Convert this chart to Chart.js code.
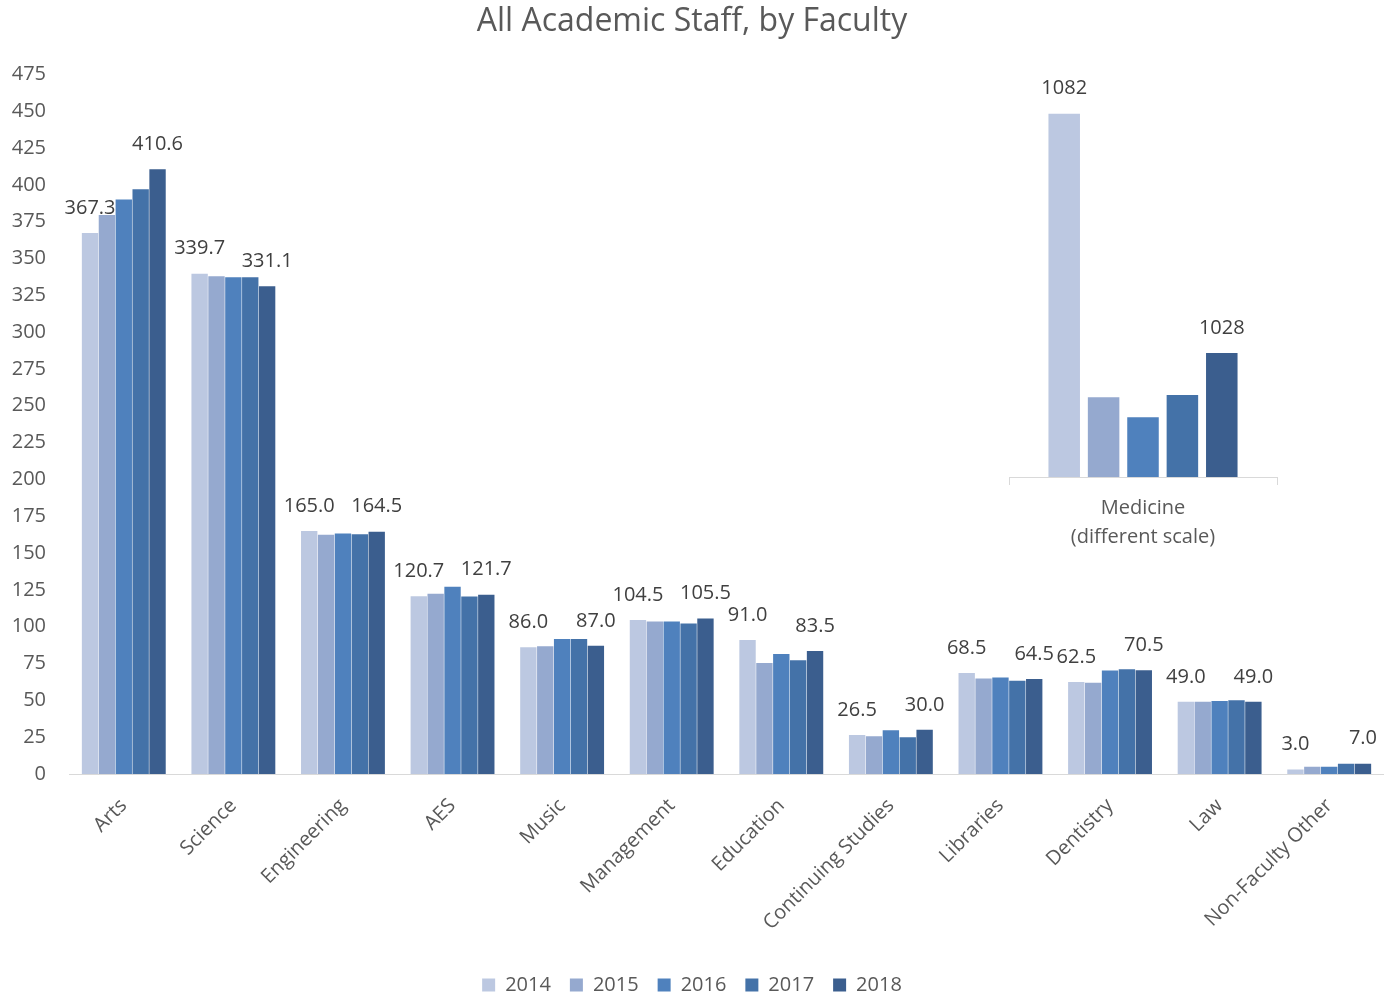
<!DOCTYPE html>
<html>
<head>
<meta charset="utf-8">
<title>All Academic Staff, by Faculty</title>
<script src="https://cdn.jsdelivr.net/npm/chart.js@4.4.1/dist/chart.umd.min.js"></script>
<style>
  html, body { margin: 0; padding: 0; background: #fff; overflow: hidden; }
  #wrap { position: relative; width: 1384px; height: 994px; overflow: hidden; }
  #mainChart { position: absolute; left: 0; top: 0; }
  #medChart { position: absolute; left: 1007px; top: 34px; }
</style>
</head>
<body>
<div id="wrap">
  <canvas id="mainChart" width="1384" height="1005"></canvas>
  <canvas id="medChart" width="272" height="533"></canvas>
</div>
<script>
// data
const faculties = ["Arts", "Science", "Engineering", "AES", "Music", "Management",
  "Education", "Continuing Studies", "Libraries", "Dentistry", "Law", "Non-Faculty Other"];
const years = ["2014", "2015", "2016", "2017", "2018"];

const staff2014 = [367.3, 339.7, 165.0, 120.7, 86.0, 104.5, 91.0, 26.5, 68.5, 62.5, 49.0, 3.0];
const staff2015 = [379.5, 338.0, 162.5, 122.3, 86.7, 103.6, 75.4, 25.6, 64.9, 62.0, 49.0, 5.0];
const staff2016 = [390.0, 337.3, 163.3, 127.2, 91.6, 103.6, 81.5, 29.7, 65.6, 70.2, 49.5, 5.0];
const staff2017 = [397.0, 337.3, 162.8, 120.5, 91.6, 102.2, 77.2, 24.9, 63.3, 71.1, 50.1, 7.0];
const staff2018 = [410.6, 331.1, 164.5, 121.7, 87.0, 105.5, 83.5, 30.0, 64.5, 70.5, 49.0, 7.0];

const medicineLabel = ["Medicine", "(different scale)"];
const medicine = [1082, 1018, 1013.5, 1018.5, 1028];

const yearColors = ["#bcc8e1", "#95a9cf", "#4f81bd", "#4472a8", "#3b5e8e"];

Chart.defaults.font.family = "'Open Sans', 'Noto Sans', sans-serif";
Chart.defaults.color = "#595959";
Chart.defaults.animation = false;

// values above the first and last year only, like the original
const endLabels = {
  id: "endLabels",
  afterDatasetsDraw(chart, args, opts) {
    const ctx = chart.ctx;
    ctx.save();
    ctx.font = "20px 'Open Sans', sans-serif";
    ctx.fillStyle = "#404040";
    ctx.textAlign = "center";
    ctx.textBaseline = "middle";
    [0, chart.data.datasets.length - 1].forEach(i => {
      const meta = chart.getDatasetMeta(i);
      const vals = chart.data.datasets[i].data;
      meta.data.forEach((bar, j) => {
        ctx.fillText(vals[j].toFixed(opts.digits), bar.x, bar.y - 25);
      });
    });
    ctx.restore();
  }
};

const series = [staff2014, staff2015, staff2016, staff2017, staff2018];

new Chart(document.getElementById("mainChart"), {
  type: "bar",
  data: {
    labels: faculties,
    datasets: years.map((y, i) => ({
      label: y,
      data: series[i],
      backgroundColor: yearColors[i],
      categoryPercentage: 0.77,
      barPercentage: 0.97
    }))
  },
  options: {
    responsive: false,
    layout: { padding: 0 },
    plugins: {
      title: {
        display: true,
        text: "All Academic Staff, by Faculty",
        color: "#595959",
        font: { size: 32, weight: "normal" },
        padding: { top: 3, bottom: 33 }
      },
      legend: {
        position: "bottom",
        labels: { boxWidth: 13, boxHeight: 13, padding: 19, color: "#595959", font: { size: 20 } }
      },
      tooltip: { enabled: false },
      endLabels: { digits: 1 }
    },
    scales: {
      x: {
        grid: { display: false, drawTicks: false },
        border: { display: true, color: "#d9d9d9" },
        ticks: { autoSkip: false, minRotation: 45, maxRotation: 45, padding: 20, color: "#595959", font: { size: 20 } },
        afterFit(scale) { scale.height = 182; }
      },
      y: {
        min: 0,
        max: 475,
        grid: { display: false, drawTicks: false },
        border: { display: false },
        ticks: { stepSize: 25, padding: 23, color: "#595959", font: { size: 20 } },
        afterFit(scale) { scale.width = 69; }
      }
    }
  },
  plugins: [endLabels]
});

// Medicine on its own scale
new Chart(document.getElementById("medChart"), {
  type: "bar",
  data: {
    labels: [medicineLabel],
    datasets: years.map((y, i) => ({
      label: y,
      data: [medicine[i]],
      backgroundColor: yearColors[i],
      categoryPercentage: 0.735,
      barPercentage: 0.8
    }))
  },
  options: {
    responsive: false,
    layout: { padding: { left: 2, right: 2, top: 0, bottom: 0 } },
    plugins: {
      legend: { display: false },
      title: { display: false },
      tooltip: { enabled: false },
      endLabels: { digits: 0 }
    },
    scales: {
      x: {
        grid: { display: true, drawOnChartArea: false, drawTicks: true, tickLength: 8, color: "#d9d9d9", offset: true },
        border: { display: true, color: "#d9d9d9" },
        ticks: { padding: 9, color: "#595959", font: { size: 20, lineHeight: 1.45 } },
        afterFit(scale) { scale.height = 90; }
      },
      y: {
        display: false,
        min: 1000,
        max: 1100
      }
    }
  },
  plugins: [endLabels]
});
</script>
</body>
</html>
